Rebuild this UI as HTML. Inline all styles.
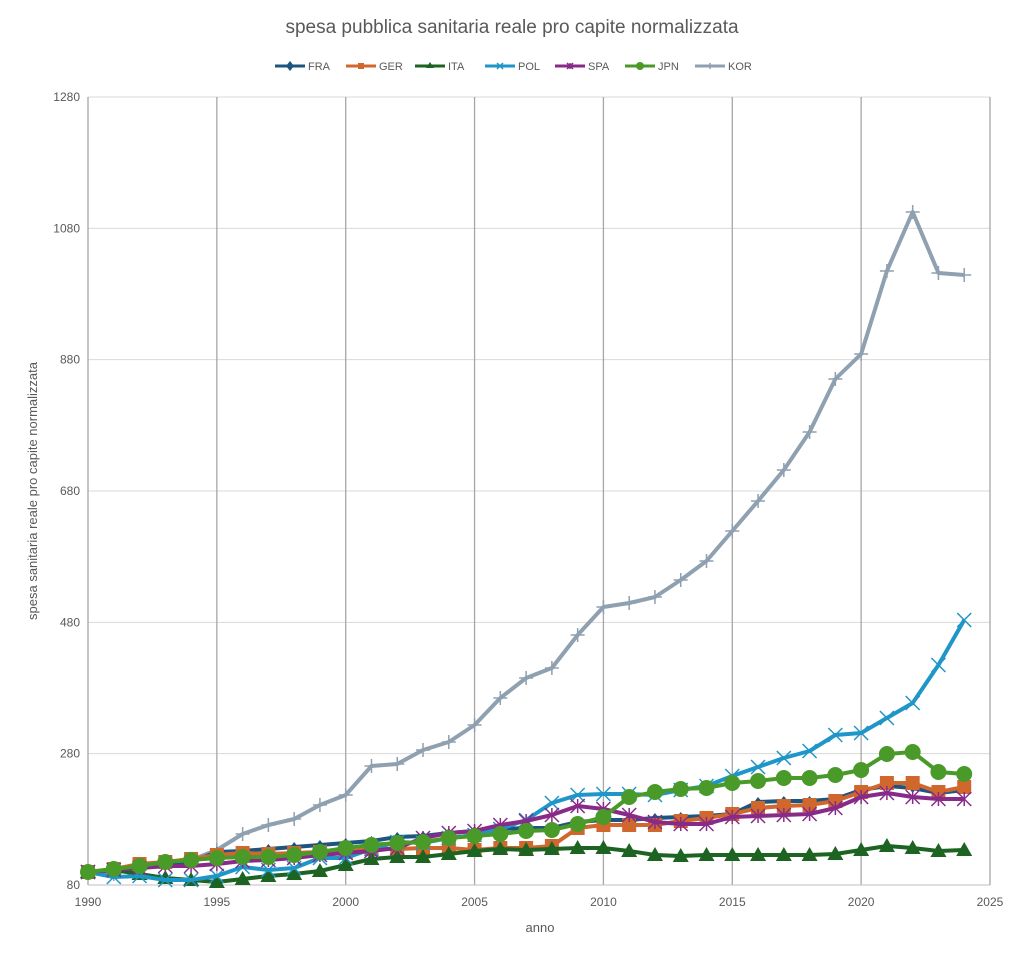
<!DOCTYPE html>
<html><head><meta charset="utf-8"><style>
body{margin:0;background:#fff;}
svg text{font-family:"Liberation Sans",sans-serif;fill:#595959;}
</style></head><body>
<svg id="s" width="1024" height="957" xmlns="http://www.w3.org/2000/svg">
<rect width="1024" height="957" fill="#fff"/>
<text x="512" y="33" font-size="19" text-anchor="middle">spesa pubblica sanitaria reale pro capite normalizzata</text>
<g id="grid"></g>
<g id="series"></g>
<g id="legend"></g>
<text x="540" y="932" font-size="13" text-anchor="middle">anno</text>
<text transform="translate(37,491) rotate(-90)" font-size="13" text-anchor="middle">spesa sanitaria reale pro capite normalizzata</text>
</svg>
<script>
const NS="http://www.w3.org/2000/svg";
function el(t,a,p){const e=document.createElementNS(NS,t);for(const k in a)e.setAttribute(k,a[k]);p.appendChild(e);return e;}
const g=document.getElementById('grid'),S=document.getElementById('series'),L=document.getElementById('legend');
const X=y=>88+(y-1990)*25.771;
const Y=v=>885-(v-80)*(788/1200);
[280,480,680,880,1080,1280].forEach(v=>el('line',{x1:88,x2:990,y1:Y(v),y2:Y(v),stroke:'#d9d9d9','stroke-width':1},g));
for(let yr=1990;yr<=2025;yr+=5){el('line',{x1:X(yr),x2:X(yr),y1:97,y2:885,stroke:'#a6a6a6','stroke-width':1.3},g);
 const t=el('text',{x:X(yr),y:906,'font-size':12,'text-anchor':'middle'},g);t.textContent=yr;}
el('line',{x1:88,x2:990,y1:885,y2:885,stroke:'#bfbfbf'},g);
[80,280,480,680,880,1080,1280].forEach(v=>{const t=el('text',{x:80,y:Y(v)+4,'font-size':12,'text-anchor':'end'},g);t.textContent=v;});
const D={
FRA:['#1c557f','d',[872,870,868,866,862,852,851,849,847,845,843,841,837,836,833,831,829,828,828,822,820,820,818,817,816,814,802,801,801,799,790,786,788,793,790]],
GER:['#d0672c','s',[872,869,864,862,859,855,853,854,853,852,852,849,849,848,848,850,848,848,846,828,825,825,825,821,818,814,808,806,805,801,792,783,783,792,787]],
ITA:['#1d6321','t',[872,870,874,878,880,882,879,876,874,871,865,859,857,857,854,851,849,850,849,848,848,851,855,856,855,855,855,855,855,854,850,846,848,851,850]],
POL:['#1f96c8','x',[872,877,876,880,880,876,867,870,868,858,858,849,842,843,838,835,829,820,803,795,794,794,795,790,786,776,767,758,751,735,733,718,703,665,620]],
SPA:['#882a88','a',[872,870,868,866,866,864,861,860,858,855,853,851,848,838,833,831,825,821,815,806,809,815,822,824,824,817,816,815,814,808,797,793,797,799,799]],
JPN:['#4a9a2a','c',[872,869,866,862,860,858,857,857,855,852,848,845,843,842,838,836,834,831,830,824,817,797,792,789,788,783,781,778,778,775,770,754,752,772,774]],
KOR:['#8fa0b0','p',[872,874,866,863,860,850,834,825,819,805,795,766,764,750,742,725,698,678,668,635,607,603,597,580,561,531,501,470,432,379,354,271,212,273,275]]};
function mk(type,x,y,c,r,par){
 if(type=='d')el('polygon',{points:`${x},${y-5} ${x+4},${y} ${x},${y+5} ${x-4},${y}`,fill:c},par);
 else if(type=='s')el('rect',{x:x-r,y:y-r,width:2*r,height:2*r,fill:c},par);
 else if(type=='t')el('polygon',{points:`${x},${y-r-1} ${x+r+1},${y+r-1} ${x-r-1},${y+r-1}`,fill:c},par);
 else if(type=='c')el('circle',{cx:x,cy:y,r:r+1,fill:c},par);
 else if(type=='x'){el('path',{d:`M${x-r} ${y-r}L${x+r} ${y+r}M${x-r} ${y+r}L${x+r} ${y-r}`,stroke:c,'stroke-width':1.5},par);}
 else if(type=='a'){el('path',{d:`M${x-r} ${y-r}L${x+r} ${y+r}M${x-r} ${y+r}L${x+r} ${y-r}M${x} ${y-r}L${x} ${y+r}`,stroke:c,'stroke-width':1.5},par);}
 else if(type=='p'){el('path',{d:`M${x-r} ${y}L${x+r} ${y}M${x} ${y-r}L${x} ${y+r}`,stroke:c,'stroke-width':1.5},par);}
}
const order=['KOR','FRA','GER','ITA','POL','SPA','JPN'];
order.forEach(k=>{const [c,m,v]=D[k];const pts=v.map((y,i)=>[X(1990+i),y]);
 el('polyline',{points:pts.map(p=>p.join(',')).join(' '),fill:'none',stroke:c,'stroke-width':4,'stroke-linejoin':'round'},S);
 pts.forEach(p=>mk(m,p[0],p[1],c,m=='c'?7:7,S));});
const lg=['FRA','GER','ITA','POL','SPA','JPN','KOR'];const lx=[275,346,415,485,555,625,695];
lg.forEach((k,i)=>{const [c,m]=D[k];el('line',{x1:lx[i],x2:lx[i]+30,y1:66,y2:66,stroke:c,'stroke-width':3},L);mk(m,lx[i]+15,66,c,3,L);
 const t=el('text',{x:lx[i]+33,y:70,'font-size':11},L);t.textContent=k;});
</script>
</body></html>
